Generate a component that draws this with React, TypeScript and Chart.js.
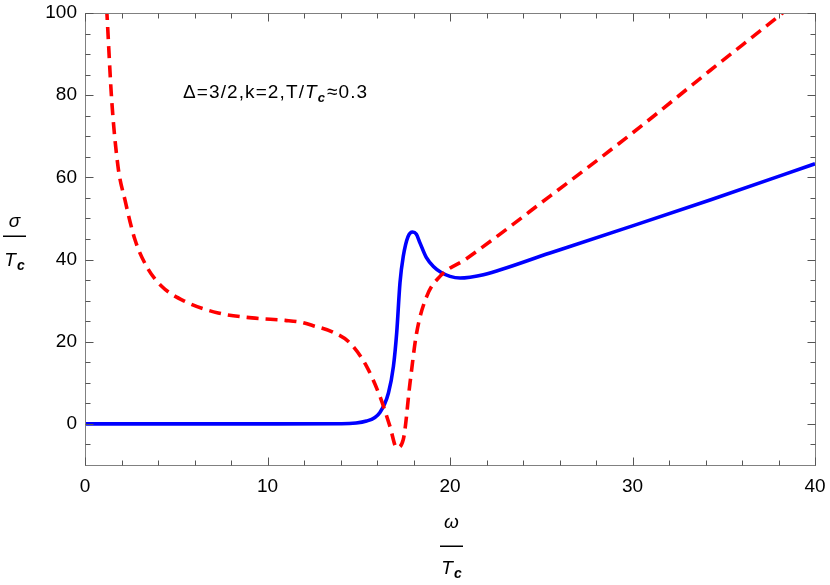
import React, { useEffect, useRef } from "react";
import { Chart, registerables } from "chart.js";

Chart.register(...registerables);

// Data
const blueOmega = [0, 5, 10, 14, 15.43, 16.16, 16.63, 16.9, 17.08, 17.26, 17.44, 17.7, 17.95, 18.15, 18.36, 18.7, 19.09, 19.5, 20.0, 20.55, 21.1, 21.83, 25.48, 30, 34.25, 40];
const blueSigma = [0, 0, 0, 0.05, 0.7, 2.8, 7.6, 14, 22.2, 34.4, 40.8, 45.6, 46.7, 46.2, 44, 40.5, 38.3, 36.9, 35.9, 35.5, 35.7, 36.3, 41.6, 48.2, 54.5, 63.3];

const redOmega = [1.0, 1.2, 1.46, 1.81, 2.19, 2.74, 3.38, 4.2, 5.48, 7.3, 9.15, 10.96, 11.78, 12.5, 13.6, 14.52, 15.43, 16.16, 16.71, 17.08, 17.44, 17.81, 18.17, 18.72, 19.45, 20.9, 25.5, 30, 34.25, 38.5, 40];
const redSigma = [115, 100, 79, 62.6, 54.5, 44.8, 38.3, 33.5, 29.8, 27.0, 25.8, 25.2, 24.8, 23.9, 22.3, 19.7, 14.0, 6.7, -0.6, -5.8, -3.8, 10, 22.1, 31, 35.9, 40.2, 55.5, 70.8, 86.0, 101, 106.5];

const xMajorTicks = [0, 10, 20, 30, 40];
const xMinorTicks = [2, 4, 6, 8, 12, 14, 16, 18, 22, 24, 26, 28, 32, 34, 36, 38];
const yMajorTicks = [0, 20, 40, 60, 80, 100];
const yMinorTicks = [-5, 5, 10, 15, 25, 30, 35, 45, 50, 55, 65, 70, 75, 85, 90, 95];

const annotationParts = { before: "Δ=3/2,k=2,T/", T: "T", c: "c", after: "≈0.3" };

const FONT = "'Liberation Sans', Arial, Helvetica, sans-serif";

function drawTc(ctx: CanvasRenderingContext2D, cx: number, baseline: number, size: number) {
  ctx.font = `italic ${size}px ${FONT}`;
  const wT = ctx.measureText("T").width;
  const subSize = Math.round(size * 0.72);
  ctx.font = `italic bold ${subSize}px ${FONT}`;
  const wc = ctx.measureText("c").width;
  const total = wT + wc + 1;
  let x = cx - total / 2;
  ctx.textAlign = "left";
  ctx.textBaseline = "alphabetic";
  ctx.font = `italic ${size}px ${FONT}`;
  ctx.fillText("T", x, baseline);
  ctx.font = `italic bold ${subSize}px ${FONT}`;
  ctx.fillText("c", x + wT + 1, baseline + 4);
}

const framePlugin = {
  id: "framePlugin",
  afterDraw(chart: any) {
    const ctx: CanvasRenderingContext2D = chart.ctx;
    const { left, right, top, bottom } = chart.chartArea;
    const xs = chart.scales.x;
    const ys = chart.scales.y;
    ctx.save();
    // frame
    ctx.strokeStyle = "#808080";
    ctx.lineWidth = 1;
    ctx.strokeRect(Math.round(left) + 0.5, Math.round(top) + 0.5, Math.round(right - left), Math.round(bottom - top));
    // ticks
    ctx.strokeStyle = "#555";
    const tick = (x1: number, y1: number, x2: number, y2: number) => {
      ctx.beginPath();
      ctx.moveTo(x1, y1);
      ctx.lineTo(x2, y2);
      ctx.stroke();
    };
    const L = Math.round(left) + 0.5, R = Math.round(right) + 0.5, T = Math.round(top) + 0.5, B = Math.round(bottom) + 0.5;
    xMajorTicks.forEach((v) => {
      const px = Math.round(xs.getPixelForValue(v)) + 0.5;
      tick(px, B, px, B - 8);
      tick(px, T, px, T + 8);
    });
    xMinorTicks.forEach((v) => {
      const px = Math.round(xs.getPixelForValue(v)) + 0.5;
      tick(px, B, px, B - 5);
      tick(px, T, px, T + 5);
    });
    yMajorTicks.forEach((v) => {
      const py = Math.round(ys.getPixelForValue(v)) + 0.5;
      tick(L, py, L + 8, py);
      tick(R, py, R - 8, py);
    });
    yMinorTicks.forEach((v) => {
      const py = Math.round(ys.getPixelForValue(v)) + 0.5;
      tick(L, py, L + 5, py);
      tick(R, py, R - 5, py);
    });

    ctx.fillStyle = "#000";
    // annotation
    const ax = 183, ab = 98;
    ctx.textAlign = "left";
    ctx.textBaseline = "alphabetic";
    (ctx as any).letterSpacing = "1.1px";
    ctx.font = `19px ${FONT}`;
    ctx.fillText(annotationParts.before, ax, ab);
    let x = ax + ctx.measureText(annotationParts.before).width;
    ctx.font = `italic 19px ${FONT}`;
    ctx.fillText(annotationParts.T, x, ab);
    x += ctx.measureText(annotationParts.T).width;
    ctx.font = `italic bold 13px ${FONT}`;
    ctx.fillText(annotationParts.c, x, ab + 4);
    x += ctx.measureText(annotationParts.c).width + 1;
    ctx.font = `19px ${FONT}`;
    ctx.fillText(annotationParts.after, x, ab);
    (ctx as any).letterSpacing = "0px";

    // y axis label (fraction)
    ctx.textAlign = "center";
    ctx.font = `italic 19px ${FONT}`;
    ctx.fillText("σ", 14.5, 227);
    ctx.fillRect(3, 235.5, 23, 1.5);
    drawTc(ctx, 14.5, 266, 19);

    // x axis label (fraction)
    ctx.textAlign = "center";
    ctx.font = `italic 19px ${FONT}`;
    ctx.fillText("ω", 451.5, 528);
    ctx.fillRect(440, 545.5, 23, 1.5);
    drawTc(ctx, 451.5, 574, 19);
    ctx.restore();
  },
};

export default function App() {
  const canvasRef = useRef<HTMLCanvasElement>(null);
  useEffect(() => {
    const canvas = canvasRef.current;
    if (!canvas) return;
    const chart = new Chart(canvas, {
      type: "line",
      data: {
        datasets: [
          {
            label: "red",
            data: redOmega.map((w, i) => ({ x: w, y: redSigma[i] })),
            borderColor: "#ff0000",
            borderWidth: 3.6,
            borderDash: [12, 7],
            pointRadius: 0,
            cubicInterpolationMode: "monotone",
            fill: false,
          },
          {
            label: "blue",
            data: blueOmega.map((w, i) => ({ x: w, y: blueSigma[i] })),
            borderColor: "#0000ff",
            borderWidth: 3.6,
            pointRadius: 0,
            cubicInterpolationMode: "monotone",
            fill: false,
          },
        ],
      },
      options: {
        animation: false,
        responsive: false,
        maintainAspectRatio: false,
        events: [],
        layout: { padding: { top: 13, right: 15, left: 0, bottom: 0 } },
        plugins: { legend: { display: false }, tooltip: { enabled: false } },
        scales: {
          x: {
            type: "linear",
            min: 0,
            max: 40,
            grid: { display: false, drawTicks: false },
            border: { display: false },
            afterBuildTicks: (s: any) => {
              s.ticks = xMajorTicks.map((v) => ({ value: v }));
            },
            afterFit: (s: any) => {
              s.height = 120;
              s.paddingLeft = 0;
              s.paddingRight = 0;
            },
            ticks: {
              padding: 10,
              maxRotation: 0,
              color: "#000",
              font: { family: FONT, size: 19 },
            },
          },
          y: {
            type: "linear",
            min: -10,
            max: 100,
            grid: { display: false, drawTicks: false },
            border: { display: false },
            afterBuildTicks: (s: any) => {
              s.ticks = yMajorTicks.map((v) => ({ value: v }));
            },
            afterFit: (s: any) => {
              s.width = 85;
              s.paddingTop = 0;
              s.paddingBottom = 0;
            },
            ticks: {
              padding: 8,
              color: "#000",
              font: { family: FONT, size: 19 },
            },
          },
        },
      },
      plugins: [framePlugin],
    } as any);
    return () => chart.destroy();
  }, []);
  return (
    <div style={{ position: "fixed", left: 0, top: 0, width: 830, height: 585, background: "#fff" }}>
      <canvas ref={canvasRef} width={830} height={585} style={{ width: 830, height: 585, display: "block" }} />
    </div>
  );
}
